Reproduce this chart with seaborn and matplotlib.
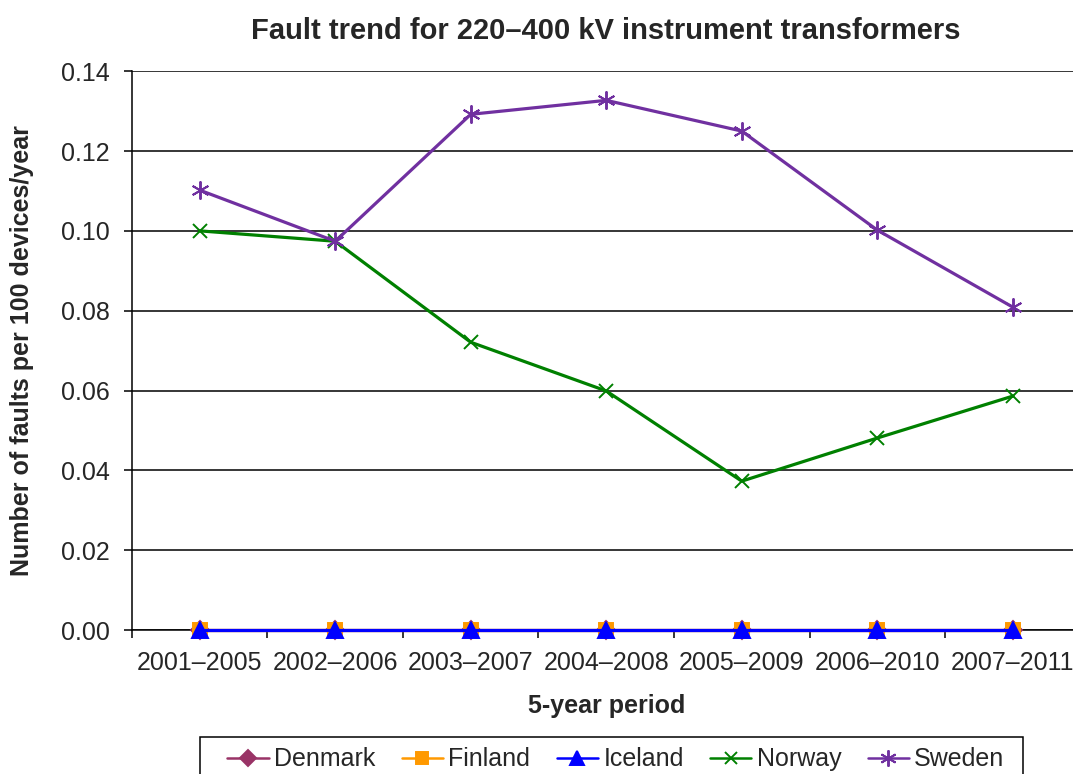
import matplotlib
matplotlib.use('Agg')
import matplotlib.pyplot as plt
import numpy as np
import seaborn as sns
from matplotlib.patches import Rectangle
from matplotlib.ticker import FixedLocator

# chart values
periods = ['2001–2005', '2002–2006', '2003–2007', '2004–2008',
           '2005–2009', '2006–2010', '2007–2011']
denmark = [0.0, 0.0, 0.0, 0.0, 0.0, 0.0, 0.0]
finland = [0.0, 0.0, 0.0, 0.0, 0.0, 0.0, 0.0]
iceland = [0.0, 0.0, 0.0, 0.0, 0.0, 0.0, 0.0]
norway = [0.1000, 0.0974, 0.0721, 0.0599, 0.0373, 0.0481, 0.0586]
sweden = [0.1102, 0.0974, 0.1292, 0.1327, 0.1250, 0.1002, 0.0809]
y_ticks = [0.0, 0.02, 0.04, 0.06, 0.08, 0.10, 0.12, 0.14]

series = [
    ('Denmark', denmark, '#993366', 'D', 9),
    ('Finland', finland, '#FF9900', 's', 10),
    ('Iceland', iceland, '#0000FF', '^', 11),
    ('Norway', norway, '#008000', 'x', 10),
    ('Sweden', sweden, '#7030A0', (6, 2, 0), 13),
]

sns.set_style('white')
plt.rcParams['font.family'] = ['Liberation Sans', 'DejaVu Sans']

fig = plt.figure(figsize=(10.73, 7.74), dpi=100)
# plot area runs a little past the right edge, as in the reference
ax = fig.add_axes([0.123, 0.186, 0.884, 0.722])

for name, vals, col, mk, ms in series:
    sns.lineplot(x=periods, y=vals, ax=ax, color=col, marker=mk,
                 markersize=ms, markeredgecolor=col, markeredgewidth=1.4,
                 linewidth=2.3, label=name, sort=False, clip_on=False,
                 zorder=4)

ax.set_xlim(-0.5, len(periods) - 0.5)
ax.set_ylim(0, 0.14)
ax.set_yticks(y_ticks)
ax.set_yticklabels([f'{v:.2f}' for v in y_ticks])
ax.yaxis.grid(True, color='black', linewidth=1.1)
ax.xaxis.grid(False)
ax.set_axisbelow(True)

for s in ['top', 'right']:
    ax.spines[s].set_visible(False)
for s in ['left', 'bottom']:
    ax.spines[s].set_color('black')
    ax.spines[s].set_linewidth(1.1)

ax.xaxis.set_minor_locator(FixedLocator(np.arange(-0.5, len(periods), 1.0)))
ax.tick_params(axis='x', which='major', length=0, labelsize=18, pad=15)
ax.tick_params(axis='x', which='minor', length=6, width=1.1, color='black',
               direction='out', bottom=True)
ax.tick_params(axis='y', length=6, width=1.1, color='black', direction='out',
               left=True, labelsize=18, pad=10)

ax.set_title('Fault trend for 220–400 kV instrument transformers',
             fontsize=21, fontweight='bold', pad=23)
ax.set_xlabel('5-year period', fontsize=18, fontweight='bold', labelpad=14)
ax.set_ylabel('Number of faults per 100 devices/year', fontsize=18,
              fontweight='bold', labelpad=19)

handles, labels = ax.get_legend_handles_labels()
ax.get_legend().remove()
leg = fig.legend(handles, labels, loc='center', ncol=5,
                 bbox_to_anchor=(0.574, 0.019), fontsize=18, frameon=False,
                 handlelength=1.65, handletextpad=0.22, columnspacing=1.05,
                 borderpad=0, borderaxespad=0)
for h in leg.legend_handles:
    h.set_linewidth(1.8)
    h.set_markersize(h.get_markersize() * 0.9)

# legend box, its bottom runs off the figure like in the reference
fig.patches.append(Rectangle((0.1864, -0.03), 0.767, 0.0778,
                             transform=fig.transFigure, fill=False,
                             edgecolor='black', linewidth=1.1))

fig.savefig('out.png', dpi=100)
